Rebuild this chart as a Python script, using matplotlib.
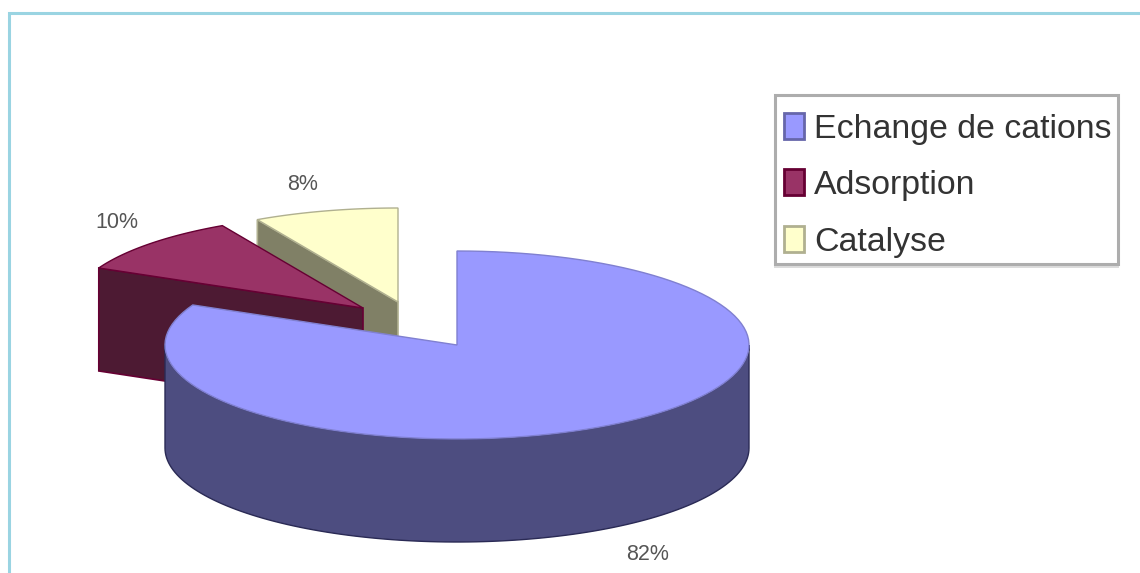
import numpy as np
import matplotlib
matplotlib.use('Agg')
import matplotlib.pyplot as plt
from matplotlib.patches import Polygon, Rectangle

labels = ['Echange de cations', 'Adsorption', 'Catalyse']
values = [82, 10, 8]
pct_labels = ['82%', '10%', '8%']
top_colors = ['#9999FF', '#993366', '#FFFFCC']
side_colors = ['#4D4D80', '#4D1A33', '#808066']
edge_colors = ['#8080D0', '#660033', '#B0B090']

# slice apex positions in pixels, exploded pie
apex_x = [457, 363, 398]
apex_y = [345, 308, 302]
rx, ry, depth = 292, 94, 103

fig = plt.figure(figsize=(11.4, 5.73), dpi=100)
ax = fig.add_axes([0, 0, 1, 1])
ax.set_xlim(0, 1140)
ax.set_ylim(573, 0)
ax.axis('off')

# frame only shows on top and left
ax.plot([9, 9, 1140], [573, 13, 13], color='#9AD4E2', lw=2.2, solid_joinstyle='miter')

ends = np.cumsum(values) / np.sum(values) * 2 * np.pi
starts = np.r_[0, ends[:-1]]


def rim(i, a0, a1):
    t = np.linspace(a0, a1, 120)
    return apex_x[i] + rx * np.sin(t), apex_y[i] - ry * np.cos(t)


# back slices first, the big one goes on top
for i in [2, 1, 0]:
    a0, a1 = starts[i], ends[i]
    cx, cy = apex_x[i], apex_y[i]

    # cut face at the end where the slice starts, seen from the front
    ex = cx + rx * np.sin(a0)
    ey = cy - ry * np.cos(a0)
    if i > 0:
        face = [(ex, ey), (cx, cy), (cx, cy + depth), (ex, ey + depth)]
        ax.add_patch(Polygon(face, closed=True, fc=side_colors[i], ec=edge_colors[i], lw=1.2, zorder=2 + 3 * (2 - i)))

    # outer wall, only the front half of the ellipse
    w0, w1 = max(a0, np.pi / 2), min(a1, 3 * np.pi / 2)
    if w1 > w0:
        wx, wy = rim(i, w0, w1)
        wall = np.r_[np.c_[wx, wy], np.c_[wx[::-1], wy[::-1] + depth]]
        ax.add_patch(Polygon(wall, closed=True, fc=side_colors[i], ec='#2A2A55', lw=1.0, zorder=3 + 3 * (2 - i)))

    tx, ty = rim(i, a0, a1)
    top = np.r_[[[cx, cy]], np.c_[tx, ty]]
    ax.add_patch(Polygon(top, closed=True, fc=top_colors[i], ec=edge_colors[i], lw=1.0, zorder=4 + 3 * (2 - i)))

# percent labels
label_x = [648, 117, 303]
label_y = [554, 222, 184]
for i in range(3):
    ax.text(label_x[i], label_y[i], pct_labels[i], ha='center', va='center',
            fontsize=15.5, color='#555555', family='Liberation Sans')

# legend box with its soft lower shadow
ax.add_patch(Rectangle((774, 264), 345, 4, fc='#DCDCDC', ec='none', zorder=20))
ax.add_patch(Rectangle((775, 95), 343, 169, fc='white', ec='#ADADAD', lw=2.2, zorder=21))
swatch_y = [113, 169, 226]
swatch_edges = ['#6666AA', '#660033', '#B0B090']
for i in range(3):
    ax.add_patch(Rectangle((784, swatch_y[i]), 20, 26, fc=top_colors[i], ec=swatch_edges[i], lw=2.0, zorder=22))
    ax.text(814, swatch_y[i] + 13, labels[i], ha='left', va='center_baseline', fontsize=24.4,
            color='#333333', family='Liberation Sans', zorder=22)

plt.savefig('out.png', dpi=100)
